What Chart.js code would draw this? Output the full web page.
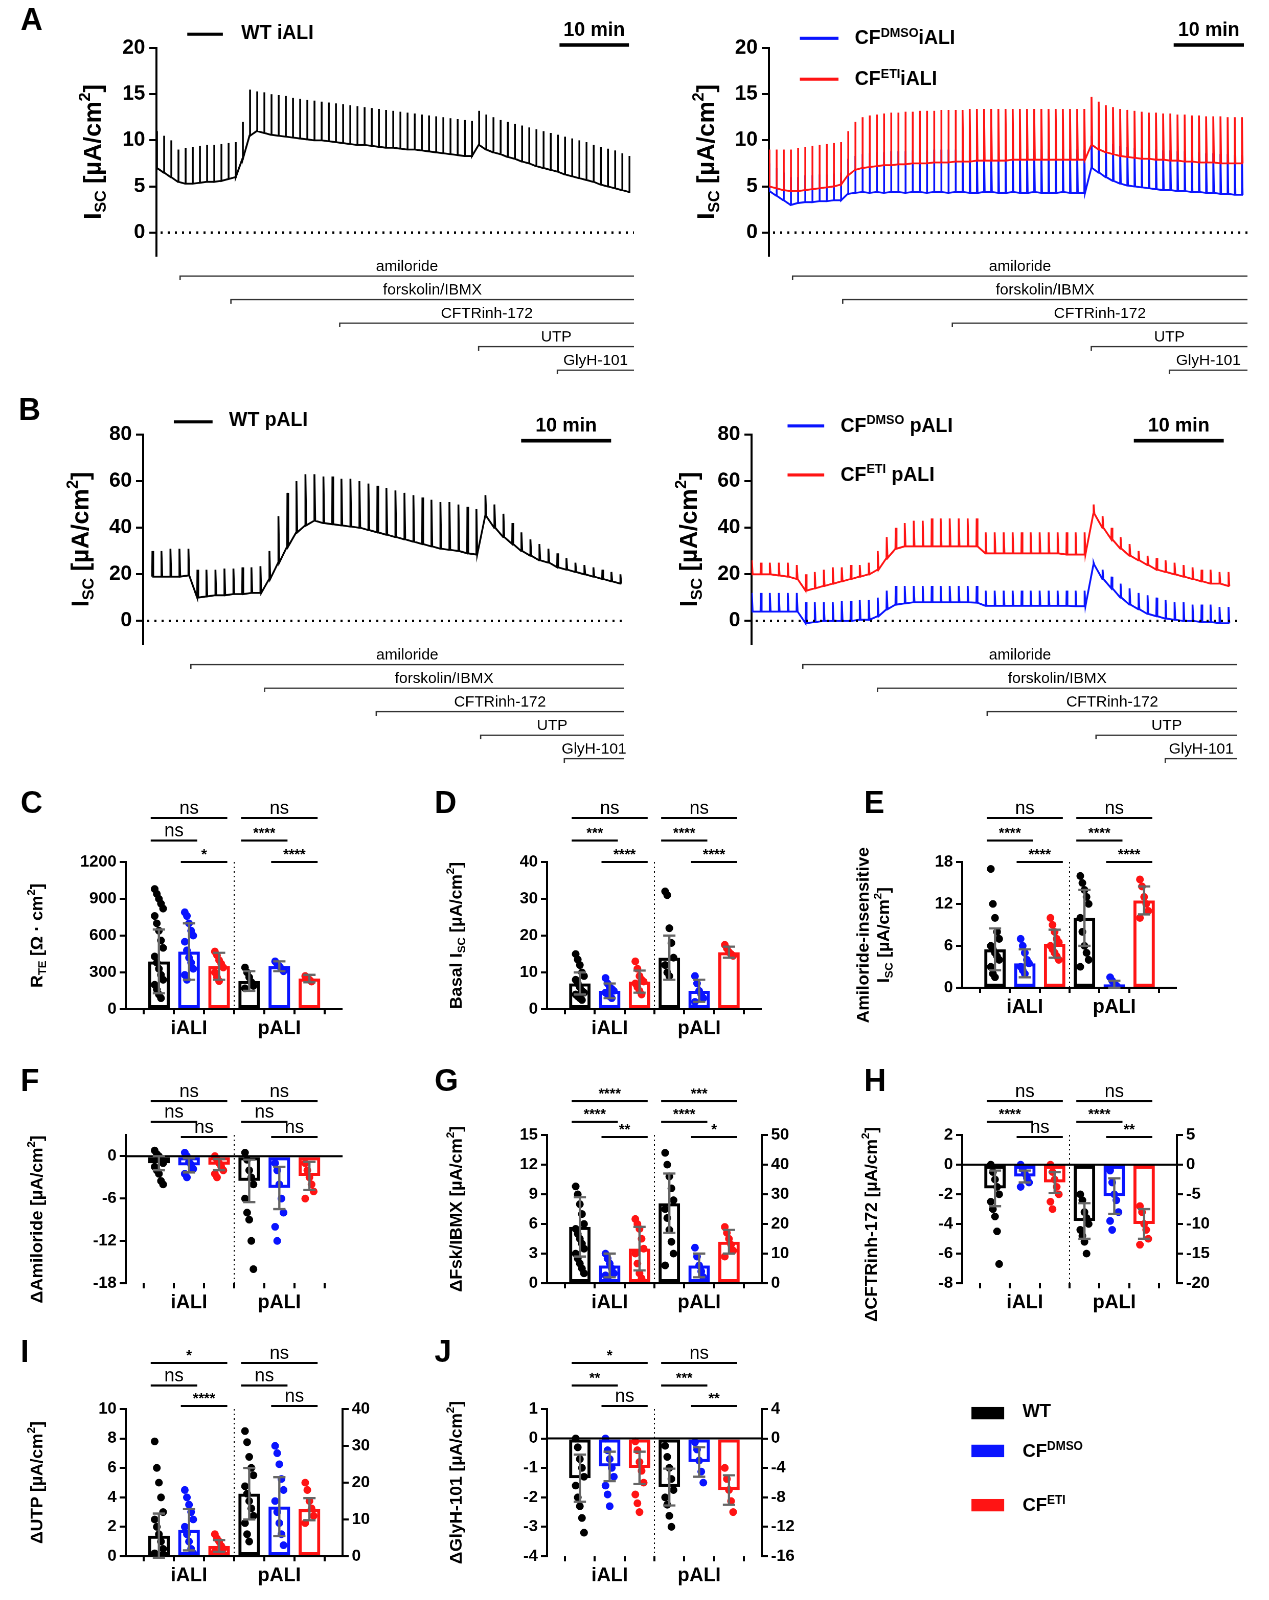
<!DOCTYPE html>
<html><head><meta charset="utf-8">
<script src="https://cdn.jsdelivr.net/npm/chart.js@4"></script>
<style>
body{margin:0;background:#fff;width:1269px;height:1600px;position:relative;font-family:'Liberation Sans',Arial,sans-serif;overflow:hidden}
#w{position:absolute;left:0;top:0;width:1241px;height:1565px;transform:scale(1.0225);transform-origin:0 0}
canvas{position:absolute}
.t{position:absolute;font-weight:bold;color:#000;white-space:nowrap}
.l{position:absolute;height:3px}
sup{font-size:65%}
</style></head><body><div id="w"></div>
<script>
// ---------- trace data (µA/cm², one pulse per minute) ----------
const wtiBase=[7,6.5,6,5.5,5.3,5.3,5.4,5.5,5.5,5.6,5.8,6,8,10.5,11,10.8,10.6,10.5,10.4,10.3,10.2,10.1,10,10,9.9,9.8,9.7,9.6,9.5,9.5,9.4,9.3,9.2,9.2,9.1,9,9,8.9,8.8,8.7,8.6,8.5,8.4,8.3,8.3,9.5,9,8.7,8.5,8.2,8,7.7,7.5,7.2,7,6.8,6.6,6.3,6.1,5.9,5.7,5.5,5.2,5,4.8,4.6,4.4];
const wtiPeak=[11,10.5,10,9,9.2,9.3,9.4,9.5,9.5,9.6,9.7,9.8,12,15.5,15.3,15.2,15,14.9,14.8,14.6,14.5,14.4,14.3,14.2,14.1,14,13.9,13.8,13.7,13.6,13.5,13.4,13.3,13.2,13.1,13,12.9,12.8,12.7,12.6,12.5,12.4,12.3,12.2,12.1,13.2,12.8,12.5,12.2,12,11.8,11.6,11.4,11.2,11,10.8,10.6,10.4,10.2,10,9.8,9.5,9.3,9.1,8.9,8.6,8.3];
const dmiBase=[4.5,4,3.5,3,3.2,3.3,3.3,3.4,3.4,3.5,3.5,4.2,4.3,4.4,4.3,4.4,4.3,4.4,4.4,4.3,4.4,4.4,4.3,4.4,4.4,4.3,4.4,4.4,4.3,4.3,4.4,4.4,4.3,4.3,4.4,4.3,4.3,4.4,4.3,4.3,4.3,4.4,4.3,4.3,4.3,7,6.5,6,5.6,5.3,5.1,5,4.9,4.8,4.7,4.6,4.6,4.5,4.5,4.4,4.4,4.3,4.3,4.2,4.2,4.1,4.1];
const dmiPeak=[7.5,7,6.5,6,6,6.2,6.2,6.3,6.3,6.4,6.5,8,8.3,8.5,8.6,8.7,8.7,8.8,8.8,8.8,8.9,8.9,8.9,9,9,9,9,9,9,9,9,9,9,9,9,9,9,9,9,9,9,9,9,9,9,10.5,10,9.8,9.6,9.4,9.3,9.2,9.1,9,9,8.9,8.9,8.8,8.8,8.7,8.7,8.6,8.6,8.5,8.5,8.4,8.4];
const etiBase=[5,4.8,4.6,4.5,4.5,4.6,4.7,4.8,4.9,5,5.2,6.2,6.8,7,7.1,7.2,7.3,7.3,7.4,7.4,7.5,7.5,7.5,7.6,7.6,7.6,7.7,7.7,7.7,7.8,7.8,7.8,7.8,7.8,7.9,7.9,7.9,7.9,7.9,7.9,7.9,7.9,7.9,7.9,7.9,9.5,9,8.7,8.5,8.3,8.2,8.1,8,8,7.9,7.9,7.8,7.8,7.7,7.7,7.6,7.6,7.6,7.5,7.5,7.5,7.5];
const etiPeak=[9,9,9,9,9.2,9.3,9.4,9.5,9.6,9.7,9.8,11,12,12.5,12.7,12.8,12.9,13,13,13.1,13.1,13.2,13.2,13.2,13.3,13.3,13.3,13.3,13.4,13.4,13.4,13.4,13.4,13.4,13.4,13.4,13.4,13.4,13.4,13.4,13.4,13.4,13.4,13.4,13.4,14.7,14.2,13.8,13.6,13.4,13.3,13.2,13.1,13,13,12.9,12.9,12.8,12.8,12.7,12.7,12.6,12.6,12.6,12.5,12.5,12.5,12.5];
const wtpBase=[19,19,19,19,19.5,10,10.5,11,11,11.5,11.5,12,12,18,25,32,38,41,43,42,41.5,41,40.5,40,39,38,37,36,35,34,33,32,31,30.5,30,29,28.5,45,40,36,33,30,28,26,25,23,22,21,20,19,18,17,16];
const wtpPeak=[30,30,31,31,31,22,22,22,22.5,22.5,23,23,23.5,30,45,55,60,63,63,62,62,61,61,60,59,58,57,56,55,54,53,52,51,51,50,49,48,54,50,46,42,38,35,33,31,29,27,25,24,23,22,21,20];
const dmpBase=[4,4,4,4,4,4,-1,-0.5,0,0,0,0,0.5,0.5,2,5,7,7.5,8,8,8,8,8,8,8,7.8,6.5,6.5,6.5,6.5,6.5,6.5,6.5,6.5,6.5,6.5,6.3,6.3,24,18,14,10,7,5,3,2,1,0.5,0,0,-0.5,-0.5,-1,-1];
const dmpPeak=[12,12,12,12,12,12,8,8,8,8,8.5,8.5,9,9,10,13,15,15,15,15,15,15,15,15,15,15,13,13,13,13,13,13,13,13,13,13,13,13,25,22,19,16,14,12,11,10,9,8,8,7,7,7,6,6];
const etpBase=[20,20,20,19.5,19,18,13,14,15,16,17,18,19,20,22,27,31,32,32,32,32,32,32,32,32,32,29,29,29,29,29,29,29,29,29,28.5,28.5,28.5,46,40,35,31,28,26,24,22,21,20,19,18,17,16,16,15];
const etpPeak=[26,25,25,25,25,24,20,21,22,23,23,24,24,25,30,36,40,42,43,43,44,44,44,44,44,44,38,38,38,38,38,38,38,38,38,38,38,38,50,45,40,36,33,30,28,27,26,25,24,23,22,22,21,21];
const drugNames=['amiloride','forskolin/IBMX','CFTRinh-172','UTP','GlyH-101'];
const drugA1=[3.3,10.4,25.6,45,56], drugA2=[3.3,10.3,25.6,45,55.9];
const drugB1=[5.3,13.5,25.9,37.5,46.8], drugB2=[5.7,14,26.2,38.3,46];
const tickA=[0,5,10,15,20], tickB=[0,20,40,60,80];

// ---------- summary data ----------
const groups=['WT iALI','DMSO iALI','ETI iALI','WT pALI','DMSO pALI','ETI pALI'];
const C_mean=[390,470,350,230,350,250], C_sd=[260,230,110,80,40,30];
const C_dots=[[980,940,900,860,820,760,700,640,560,500,430,380,330,280,240,200,160,120,90],[790,760,700,640,600,550,480,420,380,330,280,240],[470,440,400,370,340,300,260,230],[340,300,260,220,190,170],[390,370,350,330,310],[270,255,240,225]];
const D_mean=[7,5,7.5,14,5,15.5], D_sd=[3,2,3,6,3,1.5];
const D_dots=[[15,13.5,12,10,9,8,7,6,5,4.5,4,3.5,3,2.5],[8.5,7,6,5.5,5,4.5,4,3.5,3],[13,11,9,8,7.5,7,6,5,4],[32,31,22,18,14,12,10,9],[9,7,5,4,3,2],[17.5,16.5,15.5,15,14.5]];
const E_mean=[5.5,3.5,6.3,10,0.5,12.5], E_sd=[3,2,2,4,0.5,2];
const E_dots=[[17,12,10,8,7,6,5.5,5,4.5,4,3,2,1.5],[7,6,5,4,3.5,3,2.5,2],[10,9,8,7,6.5,6,5.5,5,4.5,4],[16,15,14,13,12,10,8,6,5,4,3],[1.5,1,0.5,0.3,0],[15.5,14.5,13,12,11,10]];
const F_mean=[-1,-1.3,-1.2,-3.5,-4.5,-2.8], F_sd=[1,1,0.8,3,3,2];
const F_dots=[[0.8,0.3,0,-0.5,-1,-1.5,-2,-2.5,-3.5,-4],[0.5,0,-0.8,-1.2,-1.8,-2.5,-3],[0,-0.5,-1,-1.5,-2,-2.5,-3],[0.5,-0.5,-2,-3,-4,-6,-8,-9,-12,-16],[-1,-2,-4,-6,-8,-10,-12],[-1,-2,-3,-4,-5,-6]];
const G_mean=[5.7,1.8,3.5,27,6,14], G_sd=[3,1.2,2.2,10,4,4];
const G_dots=[[9.8,9,8,7,6,5.5,5,4.5,4,3.5,3,2.5,2,1.5,1],[3,2.5,2,1.5,1,0.8,0.5],[6.5,6,5.5,4.5,3.5,3,2,1,0.5],[44,40,36,32,28,25,22,18,14,10,6],[12,9,6,4,2],[19,17,15,13,11,9]];
const H_mean=[-1.6,-0.8,-1.2,-9.5,-5.3,-10], H_sd=[1.2,0.4,0.7,3,3,2.5];
const H_dots=[[0,-0.5,-1,-1.5,-2,-2.5,-3,-3.5,-4.5,-6.7],[0,-0.3,-0.6,-0.9,-1.2,-1.5],[0,-0.5,-1,-1.5,-2,-2.5,-3],[-5,-6,-8,-9,-10,-11,-12,-13,-15],[-1,-3,-5,-6,-8,-9.5,-11],[-7,-8,-10,-11,-12.5,-13.5]];
const I_mean=[1.4,1.8,0.7,17,13.5,12.8], I_sd=[1.5,1.4,0.4,7,8,3];
const I_dots=[[7.8,6,5,4,3,2.5,2,1.5,1,0.5,0.2,0],[4.5,4,3.5,3,2.5,2,1.5,1,0.5,0.2],[1.5,1.2,1,0.7,0.5,0.3,0.1],[34,31,27,24,22,19,17,15,13,11,9,6,4],[30,28,25,21,18,15,12,9,6,3,0],[20,18,15,13,11,9]];
const J_mean=[-1.35,-0.95,-1,-6.6,-3.2,-7], J_sd=[0.8,0.5,0.55,2.5,2,2];
const J_dots=[[0,-0.3,-0.7,-1,-1.3,-1.6,-2,-2.3,-2.7,-3.2],[0,-0.4,-0.7,-1,-1.3,-1.6,-1.9,-2.3],[-0.1,-0.4,-0.8,-1.1,-1.5,-1.9,-2.2,-2.5],[-1,-2.5,-4,-5.5,-7,-8,-9,-10.5,-12],[-0.5,-1.5,-3,-4.5,-6],[-4,-5.5,-7,-8.5,-10]];
const sigC=[['ns','ns','*'],['ns','****','****']], sigD=[['ns','***','****'],['ns','****','****']], sigE=[['ns','****','****'],['ns','****','****']];
const sigF=[['ns','ns','ns'],['ns','ns','ns']], sigG=[['****','****','**'],['***','****','*']], sigH=[['ns','****','ns'],['ns','****','**']];
const sigI=[['*','ns','****'],['ns','ns','ns']], sigJ=[['*','**','ns'],['ns','***','**']];

const FONT="'Liberation Sans', Arial, sans-serif";
const COLS=['#000000','#0a14ff','#ff1414'];
const W0=document.getElementById('w');

function el(tag,cls,style,html){const e=document.createElement(tag);if(cls)e.className=cls;Object.assign(e.style,style);if(html)e.innerHTML=html;W0.appendChild(e);return e;}
function mkCanvas(L,T,W,H){const c=el('canvas','',{left:L+'px',top:T+'px',width:W+'px',height:H+'px'});c.width=W;c.height=H;return c;}

function drawRich(ctx,parts,cx,cy,size){
  ctx.save();ctx.translate(cx,cy);ctx.rotate(-Math.PI/2);ctx.fillStyle='#000';ctx.textBaseline='middle';
  let w=0;parts.forEach(p=>{ctx.font='bold '+(p[1]?size*0.65:size)+'px '+FONT;w+=ctx.measureText(p[0]).width;});
  let x=-w/2;parts.forEach(p=>{const s=p[1]?size*0.65:size;ctx.font='bold '+s+'px '+FONT;ctx.fillText(p[0],x,p[1]==='sub'?size*0.3:(p[1]==='sup'?-size*0.35:0));x+=ctx.measureText(p[0]).width;});
  ctx.restore();
}
function pulses(base,peak,t0){const pts=[];base.forEach((b,i)=>{const t=t0+i;pts.push({x:t,y:b},{x:t+0.03,y:peak[i]},{x:t+0.12,y:b});});return pts;}
function fixTicks(list){return s=>{s.ticks=list.map(v=>({value:v}));};}

function traceChart(cfg){
  const c=mkCanvas(cfg.L,cfg.T,cfg.W,370);
  const ds=cfg.series.map(s=>({data:pulses(s.base,s.peak,s.t0),borderColor:s.color,borderWidth:1.8,pointRadius:0,tension:0,fill:false}));
  new Chart(c,{type:'line',data:{datasets:ds},options:{responsive:false,animation:false,devicePixelRatio:2,
    layout:{padding:{top:cfg.padTop,right:20,bottom:140,left:0}},
    plugins:{legend:{display:false},tooltip:{enabled:false}},
    scales:{x:{type:'linear',min:0,max:cfg.xMax,display:false},
      y:{min:cfg.yMin,max:cfg.yMax,afterBuildTicks:fixTicks(cfg.ticks),afterFit:s=>{s.width=cfg.AW;},
        border:{color:'#000',width:2},grid:{display:true,drawOnChartArea:false,color:'#000',lineWidth:2,tickLength:7},
        ticks:{color:'#000',font:{family:FONT,size:20,weight:'bold'},padding:4}}}},
    plugins:[{id:'ex',afterDraw(ch){const ctx=ch.ctx,a=ch.chartArea,x=ch.scales.x,y=ch.scales.y;
      ctx.save();ctx.strokeStyle='#000';ctx.lineWidth=2.5;ctx.setLineDash([2,5]);const y0=y.getPixelForValue(0);
      ctx.beginPath();ctx.moveTo(a.left+4,y0);ctx.lineTo(a.right,y0);ctx.stroke();ctx.setLineDash([]);
      ctx.strokeStyle='#333';ctx.lineWidth=1.3;ctx.fillStyle='#000';ctx.font='15px '+FONT;ctx.textAlign='center';
      cfg.drugs.forEach((d,i)=>{const yy=a.bottom+20+i*23,x1=x.getPixelForValue(d),x2=a.right;
        ctx.beginPath();ctx.moveTo(x1,yy+4);ctx.lineTo(x1,yy);ctx.lineTo(x2,yy);ctx.stroke();
        ctx.fillText(drugNames[i],(x1+x2)/2,yy-5);});
      ctx.lineWidth=3.5;ctx.strokeStyle='#000';const sb1=x.getPixelForValue(cfg.bar[0]),sb2=x.getPixelForValue(cfg.bar[1]);
      ctx.beginPath();ctx.moveTo(sb1,cfg.barY);ctx.lineTo(sb2,cfg.barY);ctx.stroke();
      ctx.font='bold 19px '+FONT;ctx.fillText('10 min',(sb1+sb2)/2,cfg.barY-9);
      ctx.restore();
      drawRich(ctx,[['I',''],['SC','sub'],[' [µA/cm',''],['2','sup'],[']','']],cfg.titleX,(a.top+y.getPixelForValue(cfg.yMin))/2,cfg.titleSize);
    }}]});
}

traceChart({L:60,T:20,W:580,AW:93,padTop:27,xMax:66.7,yMin:-2.5,yMax:20,ticks:tickA,drugs:drugA1,bar:[56.3,66],barY:24,titleX:32,titleSize:24,
  series:[{base:wtiBase,peak:wtiPeak,t0:0,color:'#000'}]});
traceChart({L:660,T:20,W:580,AW:92,padTop:27,xMax:66.8,yMin:-2.5,yMax:20,ticks:tickA,drugs:drugA2,bar:[56.5,66.3],barY:24,titleX:32,titleSize:24,
  series:[{base:etiBase,peak:etiPeak,t0:0,color:COLS[2]},{base:dmiBase,peak:dmiPeak,t0:0,color:COLS[1]}]});
traceChart({L:50,T:400,W:580,AW:90,padTop:25,xMax:53.4,yMin:-10,yMax:80,ticks:tickB,drugs:drugB1,bar:[42,52],barY:31,titleX:30,titleSize:24,
  series:[{base:wtpBase,peak:wtpPeak,t0:1,color:'#000'}]});
traceChart({L:645,T:400,W:585,AW:90,padTop:25,xMax:54,yMin:-10,yMax:80,ticks:tickB,drugs:drugB2,bar:[42.5,52.5],barY:31,titleX:30,titleSize:24,
  series:[{base:etpBase,peak:etpPeak,t0:0,color:COLS[2]},{base:dmpBase,peak:dmpPeak,t0:0,color:COLS[1]}]});

function barChart(s){
  const RW=s.y2?45:0, XH=s.XH||45;
  const W=s.PR-s.L+RW+10, H=s.CB-s.T+XH+5;
  const c=mkCanvas(s.L,s.T,W,H);
  const ds=[];
  const split=!!s.y2;
  const bar=(idx,axis)=>({type:'bar',order:3,yAxisID:axis,data:idx.map(i=>({x:i,y:s.mean[i]})),
    backgroundColor:'rgba(255,255,255,0)',borderColor:idx.map(i=>COLS[i%3]),borderWidth:3,borderSkipped:false,barPercentage:0.9,categoryPercentage:0.8,grouped:false});
  if(split){ds.push(bar([0,1,2],'y'),bar([3,4,5],'y2'));}else ds.push(bar([0,1,2,3,4,5],'y'));
  s.dots.forEach((arr,g)=>{ds.push({type:'scatter',order:1,yAxisID:(split&&g>2)?'y2':'y',
    data:arr.map((v,k)=>({x:g+((k%5)-2)*0.07,y:v})),backgroundColor:COLS[g%3],borderColor:COLS[g%3],pointRadius:3.3});});
  const tickFont={family:FONT,size:16,weight:'bold'};
  const scales={x:{type:'linear',min:-0.5,max:5.5,afterBuildTicks:fixTicks([0,1,2,3,4,5]),afterFit:sc=>{sc.height=XH;},
      border:{display:false},grid:{display:true,drawOnChartArea:false,color:'#000',lineWidth:2,tickLength:5},
      ticks:{color:'#000',font:{family:FONT,size:19,weight:'bold'},autoSkip:false,maxRotation:0,callback:v=>v===1?'iALI':(v===4?'pALI':'')}},
    y:{position:'left',min:s.y.min,max:s.y.max,afterBuildTicks:fixTicks(s.y.ticks),afterFit:sc=>{sc.width=s.AW;},
      border:{color:'#000',width:2},grid:{display:true,drawOnChartArea:false,color:'#000',lineWidth:2,tickLength:6},
      ticks:{color:'#000',font:tickFont,padding:3,callback:v=>String(v)}}};
  if(split)scales.y2={position:'right',min:s.y2.min,max:s.y2.max,afterBuildTicks:fixTicks(s.y2.ticks),afterFit:sc=>{sc.width=RW;},
      border:{color:'#000',width:2},grid:{display:true,drawOnChartArea:false,color:'#000',lineWidth:2,tickLength:6},
      ticks:{color:'#000',font:tickFont,padding:3,callback:v=>String(v)}};
  new Chart(c,{data:{datasets:ds},options:{responsive:false,animation:false,devicePixelRatio:2,
    layout:{padding:{top:s.CT-s.T,right:10,bottom:5,left:0}},plugins:{legend:{display:false},tooltip:{enabled:false}},scales},
    plugins:[{id:'ex',afterDatasetsDraw(ch){const ctx=ch.ctx,a=ch.chartArea,x=ch.scales.x,y=ch.scales.y;
      ctx.save();
      ctx.strokeStyle='#000';ctx.lineWidth=2;const y0=y.getPixelForValue(0);
      ctx.beginPath();ctx.moveTo(a.left,y0);ctx.lineTo(a.right,y0);ctx.stroke();
      ctx.strokeStyle='#666';ctx.lineWidth=2.2;
      for(let i=0;i<6;i++){const sc=(split&&i>2)?ch.scales.y2:y;const px=x.getPixelForValue(i);
        const t=sc.getPixelForValue(s.mean[i]+s.sd[i]),b=sc.getPixelForValue(s.mean[i]-s.sd[i]);
        ctx.beginPath();ctx.moveTo(px,t);ctx.lineTo(px,b);ctx.moveTo(px-6,t);ctx.lineTo(px+6,t);ctx.moveTo(px-6,b);ctx.lineTo(px+6,b);ctx.stroke();}
      ctx.strokeStyle='#000';ctx.lineWidth=1;ctx.setLineDash([1.5,3]);const sx=x.getPixelForValue(2.5);
      ctx.beginPath();ctx.moveTo(sx,a.top);ctx.lineTo(sx,a.bottom+5);ctx.stroke();ctx.setLineDash([]);
      ctx.lineWidth=2;ctx.fillStyle='#000';ctx.textAlign='center';
      [0,1].forEach(g=>{const o=g*3;const pairs=[[o,o+2],[o,o+1],[o+1,o+2]];
        pairs.forEach((p,k)=>{const yy=s.br[k]-s.T;const x1=x.getPixelForValue(p[0])-8,x2=x.getPixelForValue(p[1])+8;
          ctx.beginPath();ctx.moveTo(x1,yy);ctx.lineTo(x2,yy);ctx.stroke();const lab=s.sig[g][k];
          ctx.font=(lab==='ns'?'18px ':'bold 14px ')+FONT;ctx.fillText(lab,(x1+x2)/2,yy-(lab==='ns'?4:3));});});
      ctx.restore();
      const my=(a.top+a.bottom)/2;
      if(s.title2){drawRich(ctx,s.title,14,my+s.tOff,17);drawRich(ctx,s.title2,34,my+s.tOff,17);}
      else drawRich(ctx,s.title,s.tx||22,my+(s.tOff||0),17);
    }}]});
}
const uA=[[' [µA/cm',''],['2','sup'],[']','']];
const r1=[800,822,843], r2=[1077,1097,1112], r3=[1333,1355,1375];
barChart({L:15,T:760,AW:108,PR:335,CT:843,CB:987,mean:C_mean,sd:C_sd,dots:C_dots,y:{min:0,max:1200,ticks:[0,300,600,900,1200]},sig:sigC,br:r1,
  title:[['R',''],['TE','sub'],[' [Ω · cm',''],['2','sup'],[']','']]});
barChart({L:425,T:760,AW:110,PR:745,CT:843,CB:987,mean:D_mean,sd:D_sd,dots:D_dots,y:{min:0,max:40,ticks:[0,10,20,30,40]},sig:sigD,br:r1,
  title:[['Basal I',''],['SC','sub']].concat(uA)});
barChart({L:831,T:760,AW:110,PR:1151,CT:843,CB:966,XH:66,mean:E_mean,sd:E_sd,dots:E_dots,y:{min:0,max:18,ticks:[0,6,12,18]},sig:sigE,br:r1,
  title:[['Amiloride-insensitive','']],title2:[['I',''],['SC','sub']].concat(uA),tOff:10});
barChart({L:15,T:1040,AW:108,PR:335,CT:1110,CB:1255,mean:F_mean,sd:F_sd,dots:F_dots,y:{min:-18,max:3,ticks:[-18,-12,-6,0]},sig:sigF,br:r2,
  title:[['ΔAmiloride','']].concat(uA),tOff:10});
barChart({L:425,T:1040,AW:110,PR:745,CT:1110,CB:1255,mean:G_mean,sd:G_sd,dots:G_dots,y:{min:0,max:15,ticks:[0,3,6,9,12,15]},y2:{min:0,max:50,ticks:[0,10,20,30,40,50]},sig:sigG,br:r2,
  title:[['ΔFsk/IBMX','']].concat(uA)});
barChart({L:831,T:1040,AW:110,PR:1151,CT:1110,CB:1255,mean:H_mean,sd:H_sd,dots:H_dots,y:{min:-8,max:2,ticks:[-8,-6,-4,-2,0,2]},y2:{min:-20,max:5,ticks:[-20,-15,-10,-5,0,5]},sig:sigH,br:r2,
  title:[['ΔCFTRinh-172','']].concat(uA),tOff:15});
barChart({L:15,T:1300,AW:108,PR:335,CT:1378,CB:1522,mean:I_mean,sd:I_sd,dots:I_dots,y:{min:0,max:10,ticks:[0,2,4,6,8,10]},y2:{min:0,max:40,ticks:[0,10,20,30,40]},sig:sigI,br:r3,
  title:[['ΔUTP','']].concat(uA)});
barChart({L:425,T:1300,AW:110,PR:745,CT:1378,CB:1522,mean:J_mean,sd:J_sd,dots:J_dots,y:{min:-4,max:1,ticks:[-4,-3,-2,-1,0,1]},y2:{min:-16,max:4,ticks:[-16,-12,-8,-4,0,4]},sig:sigJ,br:r3,
  title:[['ΔGlyH-101','']].concat(uA)});

[['A',20,2],['B',18,384],['C',20,768],['D',425,768],['E',845,768],['F',20,1040],['G',425,1040],['H',845,1040],['I',20,1305],['J',425,1305]]
  .forEach(p=>el('div','t',{left:p[1]+'px',top:p[2]+'px',fontSize:'30px'},p[0]));
function leg(x1,x2,y,col,tx,html){el('div','l',{left:x1+'px',top:(y-1.5)+'px',width:(x2-x1)+'px',background:col});el('div','t',{left:tx+'px',top:(y-12)+'px',fontSize:'19px'},html);}
leg(183,218,33,'#000',236,'WT iALI');
leg(782,820,37,COLS[1],836,'CF<sup>DMSO</sup>iALI');
leg(782,820,77,COLS[2],836,'CF<sup>ETI</sup>iALI');
leg(170,208,412,'#000',224,'WT pALI');
leg(770,806,416,COLS[1],822,'CF<sup>DMSO</sup> pALI');
leg(770,806,464,COLS[2],822,'CF<sup>ETI</sup> pALI');
[[1382,'#000','WT'],[1419,COLS[1],'CF<sup>DMSO</sup>'],[1472,COLS[2],'CF<sup>ETI</sup>']].forEach(r=>{
  el('div','',{position:'absolute',left:'950px',top:(r[0]-6)+'px',width:'32px',height:'12px',background:r[1]});
  el('div','t',{left:'1000px',top:(r[0]-12)+'px',fontSize:'18px'},r[2]);});
</script>
</body></html>
